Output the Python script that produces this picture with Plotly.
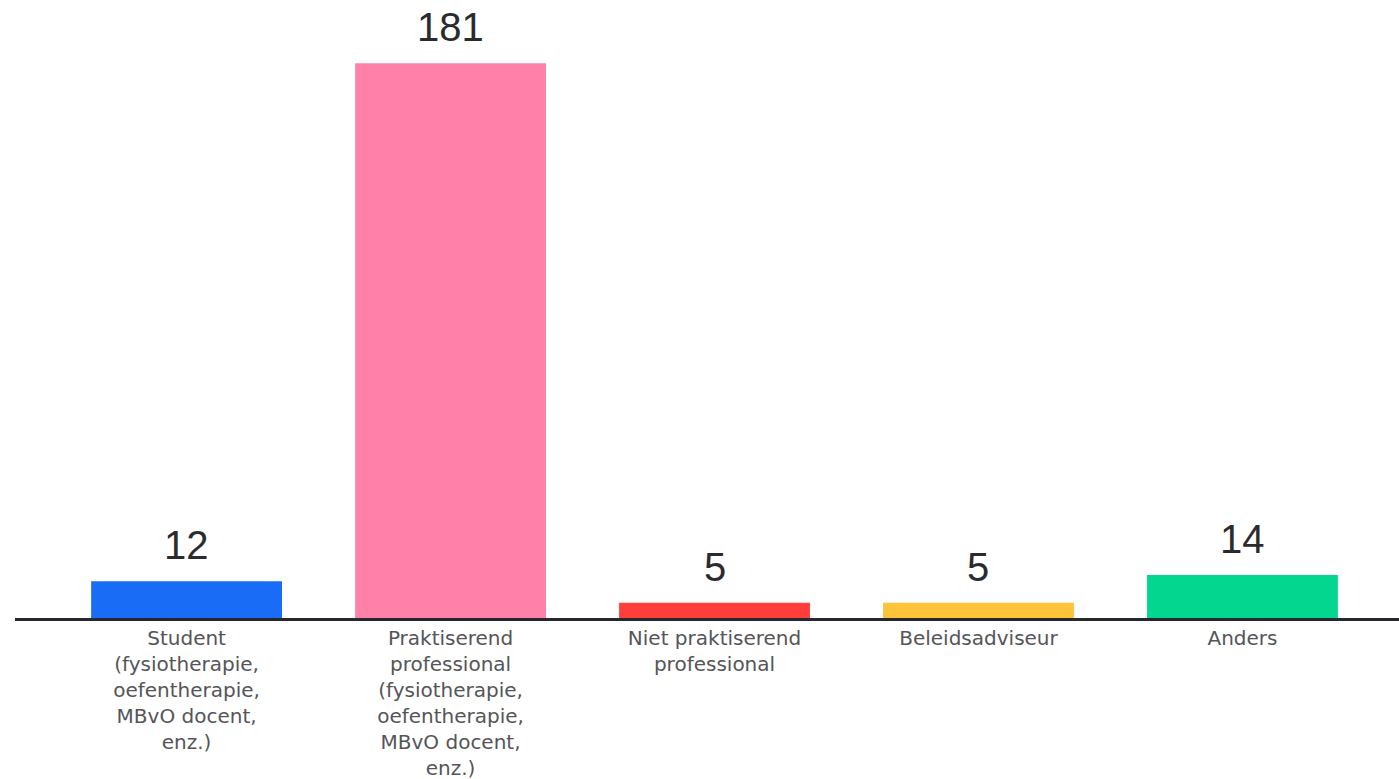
import plotly.graph_objects as go

categories = ["Student", "Praktiserend", "Niet praktiserend", "Beleidsadviseur", "Anders"]
tick_labels = [
    "Student<br>(fysiotherapie,<br>oefentherapie,<br>MBvO docent,<br>enz.)",
    "Praktiserend<br>professional<br>(fysiotherapie,<br>oefentherapie,<br>MBvO docent,<br>enz.)",
    "Niet praktiserend<br>professional",
    "Beleidsadviseur",
    "Anders",
]
values = [12, 181, 5, 5, 14]
colors = ["#196cf5", "#ff80a9", "#ff3d3a", "#fdc43a", "#03d68f"]

fig = go.Figure()
fig.add_trace(go.Bar(
    x=categories, y=values,
    marker=dict(color=colors, line=dict(width=0)),
    hoverinfo="skip",
))

for c, v in zip(categories, values):
    fig.add_annotation(
        x=c, y=v, text=str(v), showarrow=False,
        yanchor="bottom", yshift=12,
        font=dict(family="Liberation Sans, Arial, sans-serif", size=40, color="#2b2b2e"),
    )

fig.update_layout(
    width=1399, height=779,
    margin=dict(l=15, r=0, t=0, b=161, autoexpand=False),
    paper_bgcolor="white", plot_bgcolor="white",
    bargap=0.277,
    showlegend=False,
    xaxis=dict(
        range=[-0.65, 4.593], automargin=False,
        tickmode="array", tickvals=categories, ticktext=tick_labels,
        showline=True, linewidth=3, linecolor="#26272f",
        showgrid=False, zeroline=False, ticks="",
        tickfont=dict(family="DejaVu Sans, sans-serif", size=20, color="#555559"),
    ),
    yaxis=dict(
        range=[0, 201.6], visible=False, showgrid=False, zeroline=False,
        automargin=False,
    ),
)

fig.write_html("out.html")
